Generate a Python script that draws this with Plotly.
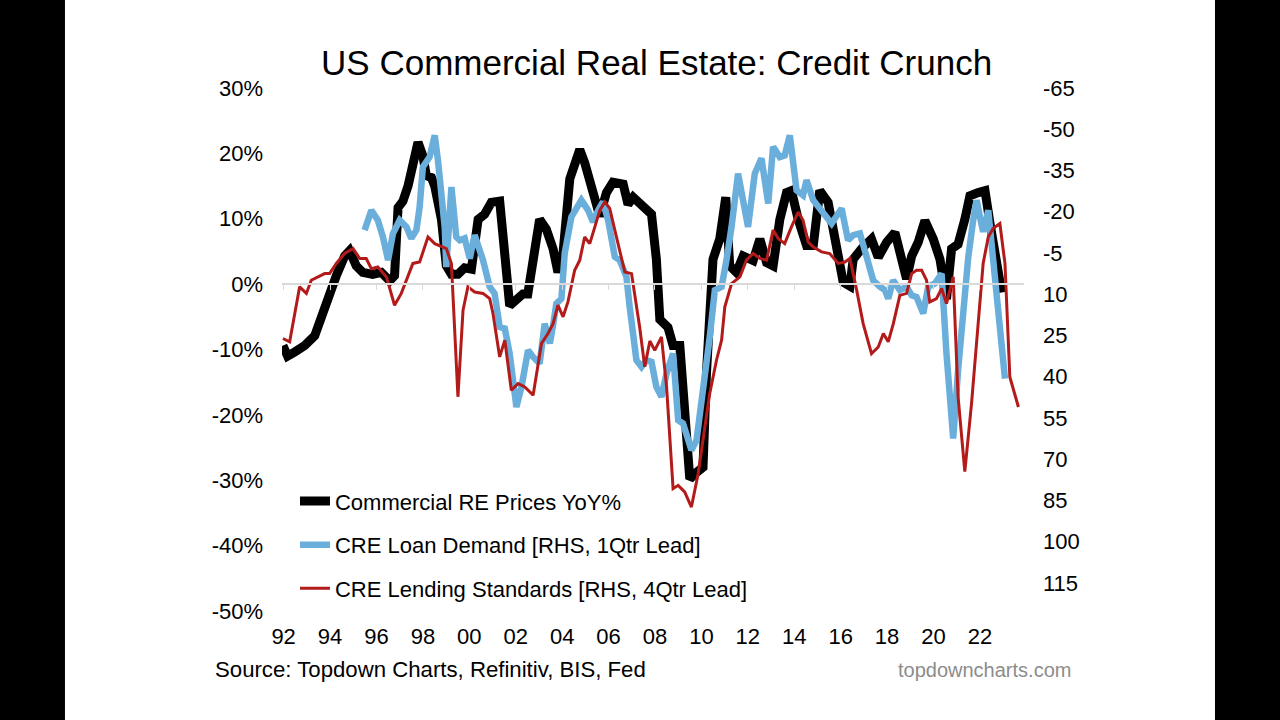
import plotly.graph_objects as go

# Commercial RE prices YoY % (left axis)
price_t = [1991.97, 1992.17, 1992.47, 1992.91, 1993.34, 1993.63, 1993.98, 1994.27, 1994.63, 1994.84,
           1995.13, 1995.41, 1995.84, 1996.21, 1996.57, 1996.78, 1996.93, 1997.14, 1997.36, 1997.57,
           1997.79, 1998.00, 1998.15, 1998.37, 1998.51, 1998.80, 1999.01, 1999.23, 1999.51, 1999.80,
           2000.09, 2000.38, 2000.66, 2000.95, 2001.31, 2001.74, 2002.10, 2002.31, 2002.52, 2002.75,
           2003.03, 2003.32, 2003.61, 2003.82, 2004.04, 2004.33, 2004.54, 2004.76, 2004.97, 2005.19,
           2005.48, 2005.62, 2005.91, 2006.19, 2006.63, 2006.84, 2007.06, 2007.42, 2007.85, 2008.06,
           2008.21, 2008.56, 2008.78, 2009.07, 2009.21, 2009.50, 2009.79, 2010.07, 2010.22, 2010.50,
           2010.79, 2011.05, 2011.22, 2011.51, 2011.80, 2012.23, 2012.52, 2012.81, 2013.09, 2013.38,
           2013.67, 2013.88, 2014.17, 2014.53, 2014.82, 2015.10, 2015.46, 2015.82, 2016.11, 2016.40,
           2016.54, 2016.90, 2017.33, 2017.62, 2017.98, 2018.34, 2018.63, 2018.84, 2019.06, 2019.34,
           2019.63, 2019.99, 2020.28, 2020.56, 2020.78, 2021.06, 2021.35, 2021.57, 2021.93, 2022.22,
           2022.43, 2022.72, 2022.94]
price_v = [-9.4, -11.0, -10.4, -9.4, -7.9, -4.8, -1.8, 1.3, 4.3, 5.1,
           2.8, 1.8, 1.5, 1.8, 0.5, 1.3, 11.7, 12.7, 15.0, 19.1,
           21.7, 19.6, 16.6, 16.3, 15.0, 9.9, 2.8, 1.5, 1.5, 2.5,
           2.3, 9.9, 10.7, 12.5, 12.7, -3.3, -2.0, -1.5, -1.5, 3.8,
           9.9, 8.4, 5.4, 1.8, 4.8, 16.1, 18.6, 20.6, 18.6, 15.6,
           12.0, 10.4, 14.0, 15.6, 15.3, 12.2, 13.3, 12.2, 10.7, 3.8,
           -5.4, -6.6, -9.4, -9.4, -15.5, -29.8, -28.8, -28.0, -13.5, 3.8,
           6.9, 13.3, 2.8, 1.8, 4.3, 3.6, 6.9, 3.3, 2.8, 9.9,
           14.0, 14.3, 9.9, 5.9, 5.9, 14.3, 12.5, 5.9, 0.3, -0.3,
           3.8, 5.4, 6.9, 4.1, 6.4, 7.9, 3.8, 0.8, 4.3, 6.4,
           9.7, 6.9, 3.8, -2.3, 5.4, 6.1, 9.9, 13.5, 14.0, 14.3,
           9.4, 3.3, -1.3]

# CRE loan demand, RHS inverted, 1 quarter lead
demand_t = [1995.49, 1995.78, 1996.06, 1996.28, 1996.50, 1996.71, 1997.00, 1997.29, 1997.50, 1997.72,
            1997.86, 1998.00, 1998.29, 1998.51, 1998.65, 1998.80, 1998.94, 1999.01, 1999.23, 1999.44,
            1999.59, 1999.80, 2000.02, 2000.23, 2000.59, 2000.88, 2001.09, 2001.31, 2001.53, 2001.74,
            2002.03, 2002.25, 2002.53, 2002.75, 2003.03, 2003.25, 2003.47, 2003.61, 2003.75, 2003.97,
            2004.11, 2004.40, 2004.62, 2004.83, 2005.12, 2005.33, 2005.55, 2005.76, 2005.98, 2006.27,
            2006.48, 2006.77, 2006.91, 2007.06, 2007.20, 2007.42, 2007.63, 2007.85, 2008.06, 2008.28,
            2008.50, 2008.78, 2009.00, 2009.21, 2009.57, 2009.79, 2010.07, 2010.36, 2010.58, 2010.87,
            2011.08, 2011.30, 2011.58, 2011.80, 2012.01, 2012.30, 2012.59, 2012.88, 2013.09, 2013.38,
            2013.59, 2013.81, 2014.10, 2014.38, 2014.53, 2014.82, 2015.18, 2015.61, 2016.04, 2016.32,
            2016.54, 2016.83, 2017.12, 2017.40, 2017.69, 2017.91, 2018.05, 2018.26, 2018.55, 2018.84,
            2019.06, 2019.27, 2019.56, 2019.77, 2020.06, 2020.35, 2020.56, 2020.85, 2021.06, 2021.28,
            2021.50, 2021.71, 2021.86, 2022.00, 2022.14, 2022.36, 2022.57, 2022.86, 2023.08]
demand_v = [-13.3, -20.5, -16.9, -10.8, -2.4, -12.1, -16.9, -14.5, -10.3, -13.3,
            -21.7, -36.3, -39.9, -47.8, -38.7, -26.6, -14.5, 0.1, -29.0, -10.8,
            -9.6, -10.3, -3.0, -11.5, -2.4, 7.3, 9.7, 21.9, 22.5, 31.6,
            51.0, 43.7, 30.4, 32.8, 35.2, 20.7, 27.9, 21.3, 13.4, 11.6,
            -4.8, -18.1, -21.7, -24.2, -20.5, -16.3, -20.5, -23.6, -16.9, -3.6,
            -2.4, 3.7, 14.6, 24.3, 34.0, 36.4, 34.0, 34.6, 43.7, 47.3,
            38.8, 31.6, 55.8, 57.0, 66.7, 63.1, 46.1, 25.5, 8.5, 7.3,
            -2.4, -14.5, -33.9, -23.0, -14.5, -33.9, -39.4, -23.0, -43.6, -39.9,
            -40.5, -47.8, -27.8, -26.0, -31.5, -24.2, -20.5, -15.7, -21.2, -9.6,
            -11.5, -12.1, -3.6, 4.9, 7.3, 8.5, 11.6, 4.9, 8.5, 7.3,
            10.4, 11.0, 17.0, 7.3, 6.1, 2.5, 31.6, 62.5, 37.6, 15.8,
            -3.6, -16.9, -24.2, -18.1, -12.7, -20.5, -3.6, 19.5, 40.7]

# CRE lending standards, RHS inverted, 4 quarter lead
standards_t = [1991.97, 1992.26, 1992.69, 1992.98, 1993.19, 1993.48, 1993.77, 1993.98, 1994.27, 1994.63,
               1994.99, 1995.28, 1995.56, 1995.78, 1996.06, 1996.43, 1996.78, 1997.07, 1997.36, 1997.57,
               1997.86, 1998.22, 1998.51, 1998.80, 1999.01, 1999.23, 1999.51, 1999.73, 1999.94, 2000.23,
               2000.59, 2000.88, 2001.02, 2001.31, 2001.53, 2001.81, 2002.10, 2002.39, 2002.75, 2003.11,
               2003.39, 2003.61, 2003.82, 2004.04, 2004.25, 2004.54, 2004.76, 2004.97, 2005.19, 2005.41,
               2005.62, 2005.84, 2006.05, 2006.27, 2006.48, 2006.70, 2006.99, 2007.13, 2007.34, 2007.56,
               2007.78, 2007.99, 2008.28, 2008.50, 2008.78, 2009.00, 2009.28, 2009.57, 2009.86, 2010.15,
               2010.36, 2010.65, 2010.87, 2011.01, 2011.30, 2011.66, 2011.94, 2012.23, 2012.52, 2012.81,
               2013.09, 2013.31, 2013.59, 2013.88, 2014.17, 2014.38, 2014.60, 2014.82, 2015.18, 2015.53,
               2015.89, 2016.18, 2016.40, 2016.69, 2016.97, 2017.33, 2017.62, 2017.84, 2018.05, 2018.27,
               2018.55, 2018.84, 2019.06, 2019.27, 2019.49, 2019.70, 2019.84, 2020.13, 2020.35, 2020.56,
               2020.85, 2021.06, 2021.35, 2021.64, 2021.93, 2022.14, 2022.36, 2022.57, 2022.86, 2023.08,
               2023.29, 2023.44, 2023.66]
standards_v = [26.1, 27.3, 7.3, 9.7, 4.9, 3.7, 2.5, 2.5, -1.2, -4.8,
               -6.6, -3.0, -3.0, 0.7, 0.1, 3.7, 14.0, 9.7, 3.7, -1.2,
               -1.7, -10.8, -8.4, -7.2, -6.6, -1.2, 47.3, 15.8, 7.3, 9.2,
               9.7, 11.6, 17.0, 32.8, 26.7, 44.9, 42.5, 43.7, 46.7, 27.9,
               24.3, 20.7, 14.0, 18.2, 12.8, 1.3, -2.4, -10.8, -8.4, -14.5,
               -20.5, -23.6, -21.2, -13.3, -6.0, 1.9, 2.5, 9.7, 21.9, 36.4,
               27.0, 30.4, 25.5, 43.7, 80.7, 79.5, 81.9, 87.4, 75.3, 58.3,
               46.1, 34.0, 26.7, 14.6, 6.1, 3.7, -2.4, -4.8, -3.0, -2.4,
               -13.3, -10.3, -8.4, -14.5, -19.9, -16.9, -9.0, -7.2, -5.4, -4.8,
               -1.2, -1.7, -3.0, 8.5, 20.7, 31.6, 29.2, 24.3, 27.3, 20.7,
               10.4, 9.7, 2.5, 1.3, 1.3, 4.9, 12.8, 11.6, 7.9, 13.4,
               3.7, 47.3, 74.5, 49.7, 21.9, -1.2, -10.8, -13.9, -15.7, -1.2,
               40.1, 44.9, 51.0]

year_ticks = list(range(1992, 2023, 2))
year_labels = [str(y)[2:] for y in year_ticks]
left_ticks = list(range(-50, 31, 10))
left_labels = [f"{v}%" for v in left_ticks]
right_ticks = list(range(-65, 116, 15))
right_labels = [str(v) for v in right_ticks]

FONT = "Liberation Sans, Arial, sans-serif"

fig = go.Figure()
fig.add_trace(go.Scatter(x=price_t, y=price_v, name="Commercial RE Prices YoY%",
                         mode="lines", line=dict(color="#000000", width=9),
                         legendgroup="a"))
fig.add_trace(go.Scatter(x=demand_t, y=demand_v, name="CRE Loan Demand [RHS, 1Qtr Lead]",
                         mode="lines", line=dict(color="#6aaedb", width=6.5),
                         yaxis="y2", legendgroup="b"))
fig.add_trace(go.Scatter(x=standards_t, y=standards_v, name="CRE Lending Standards [RHS, 4Qtr Lead]",
                         mode="lines", line=dict(color="#b31b1b", width=3),
                         yaxis="y2", legendgroup="c"))
# carrier for the axis line drawn through 0%
fig.add_trace(go.Scatter(x=[price_t[0]], y=[0], xaxis="x2", mode="lines",
                         showlegend=False, hoverinfo="skip", line=dict(width=0)))

fig.update_layout(
    width=1280, height=720,
    margin=dict(l=282, r=256, t=88, b=109),
    paper_bgcolor="black", plot_bgcolor="white",
    font=dict(family=FONT, size=22, color="black"),
    title=dict(text="US Commercial Real Estate: Credit Crunch", x=0.513, xref="container",
               y=0.9125, yref="container", xanchor="center", yanchor="middle",
               font=dict(size=35, color="black")),
    xaxis=dict(range=[1991.93, 2023.9], tickvals=year_ticks, ticktext=year_labels,
               showgrid=False, zeroline=False, showline=False, ticks="",
               ticklabelstandoff=10),
    xaxis2=dict(overlaying="x", matches="x", anchor="free", position=0.625,
                tickvals=year_ticks, showticklabels=False, showgrid=False, zeroline=False,
                showline=True, linecolor="#d9d9d9", linewidth=1.5,
                ticks="outside", ticklen=5, tickcolor="#d9d9d9"),
    yaxis=dict(range=[-50, 30], tickvals=left_ticks, ticktext=left_labels, showgrid=False,
               zeroline=False, showline=False, ticks="", ticklabelstandoff=18),
    yaxis2=dict(range=[125.2, -65], tickvals=right_ticks, ticktext=right_labels,
                overlaying="y", side="right",
                showgrid=False, zeroline=False, showline=False, ticks="",
                ticklabelstandoff=18),
    legend=dict(x=0.0175, y=0.250, xanchor="left", yanchor="top", bgcolor="rgba(0,0,0,0)",
                font=dict(size=22), tracegroupgap=12, itemclick=False),
    showlegend=True,
    shapes=[dict(type="rect", xref="paper", yref="paper", x0=-0.2925, x1=1.2574,
                 y0=-0.2084, y1=1.1683, fillcolor="white", line=dict(width=0), layer="below")],
    annotations=[
        dict(text="Source: Topdown Charts, Refinitiv, BIS, Fed", xref="paper", yref="paper",
             x=-0.093, y=-0.111, xanchor="left", yanchor="middle", showarrow=False,
             font=dict(size=22.2, color="black")),
        dict(text="topdowncharts.com", xref="paper", yref="paper",
             x=1.066, y=-0.113, xanchor="right", yanchor="middle", showarrow=False,
             font=dict(size=20, color="#8c8c8c")),
    ],
)

fig.write_html("out.html", config={"displayModeBar": False},
               post_script="document.body.style.margin='0';document.body.style.background='black';")
